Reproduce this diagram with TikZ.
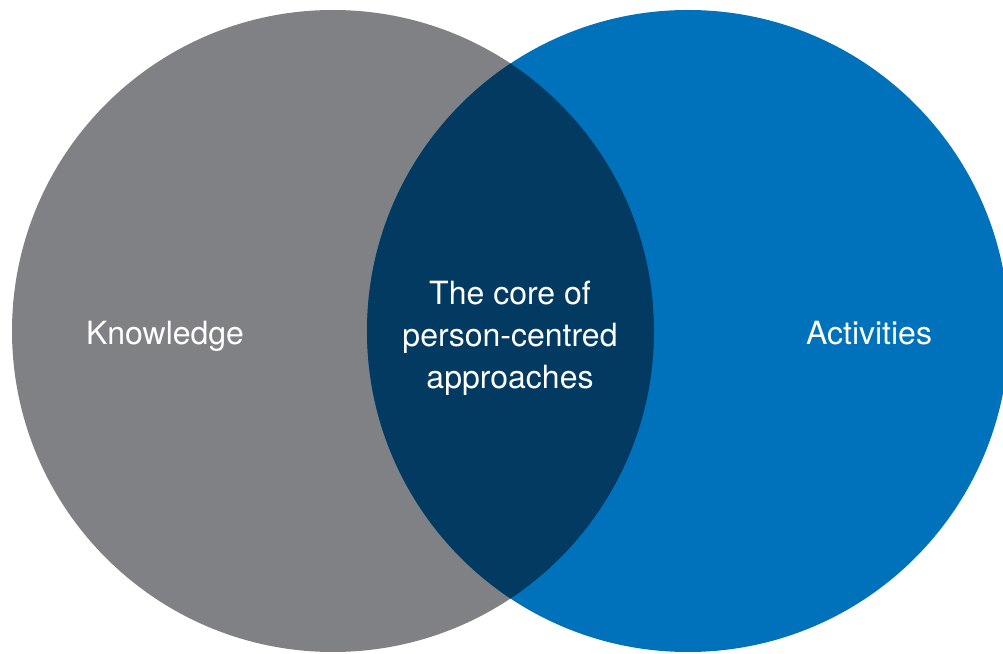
\documentclass[tikz,border=0pt]{standalone}
\usepackage{fontspec}
\setmainfont{TeX Gyre Heros}
\definecolor{kgray}{HTML}{808184}
\definecolor{kblue}{HTML}{0071BB}
\definecolor{kdark}{HTML}{033A62}
\begin{document}
\begin{tikzpicture}[x=1pt,y=1pt,
  lbl/.style={text=white,font=\fontsize{32}{42}\selectfont,inner sep=0pt}]
\useasboundingbox (0,0) rectangle (1003,653);
\clip (0,0) rectangle (1003,653);
\fill[kgray] (333,322) circle (321);
\fill[kblue] (688,322) circle (321);
\begin{scope}
  \clip (333,322) circle (321);
  \fill[kdark] (688,322) circle (321);
\end{scope}
\node[lbl,anchor=base] (know) at (165,308) {Knowledge};
\node[lbl,anchor=base] (act) at (869,308) {Activities};
\node[lbl,align=center] (core) at (510,315) {The core of\\person-centred\\approaches};
\end{tikzpicture}
\end{document}
